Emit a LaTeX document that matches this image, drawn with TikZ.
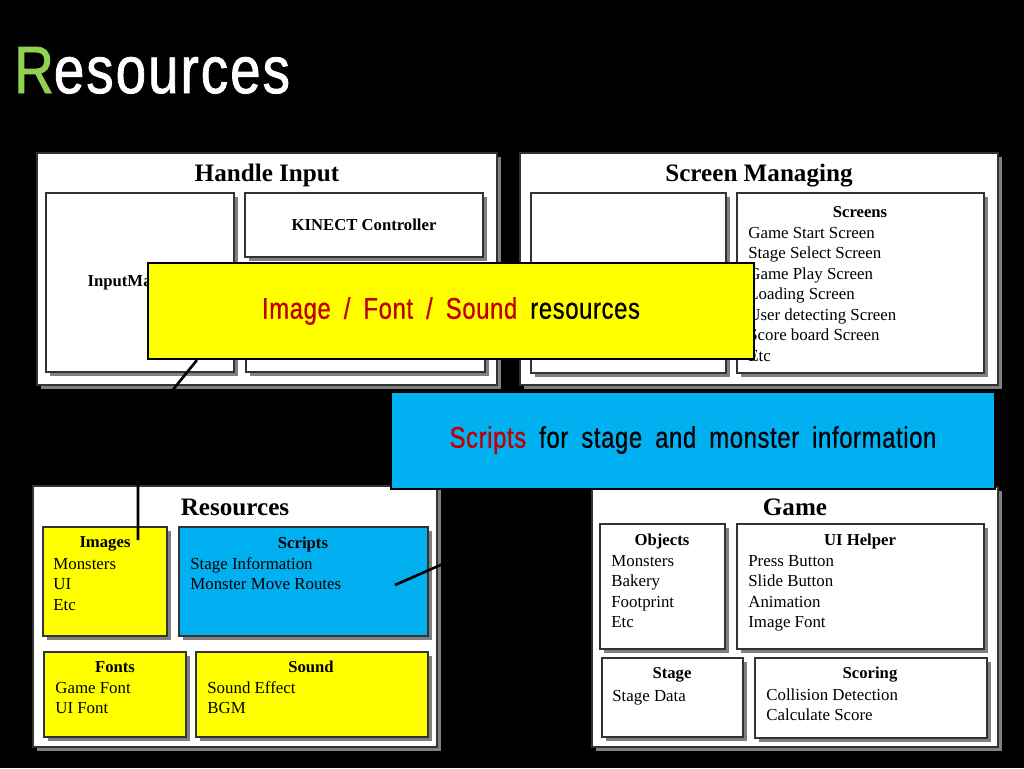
\documentclass[tikz,border=0pt]{standalone}
\usepackage{fontspec}
\setmainfont{Liberation Serif}
\newfontfamily\condfont[FakeStretch=0.82,FakeBold=1.2,LetterSpace=3]{Liberation Sans}
\newfontfamily\callfont[FakeStretch=0.8,FakeBold=0.6,LetterSpace=2,WordSpace=1.8]{Liberation Sans}
\usetikzlibrary{fit,shadows,calc}

\definecolor{callyellow}{RGB}{255,255,0}
\definecolor{callblue}{RGB}{0,176,240}
\definecolor{callred}{RGB}{192,0,0}
\definecolor{titlegreen}{RGB}{146,208,80}

\tikzset{
  panel/.style={draw=black!80, line width=0.6pt, fill=white, inner sep=0pt,
    drop shadow={shadow xshift=2.3pt, shadow yshift=-2.3pt, fill=gray, opacity=1}},
  head/.style={font=\bfseries\fontsize{14.3}{16}\selectfont},
  sub/.style={font=\bfseries\fontsize{9.5}{11}\selectfont},
  item/.style={anchor=base west, inner sep=0pt, font=\fontsize{9.6}{11}\selectfont},
  callout/.style={draw=black, line width=1.2pt, inner sep=0pt},
  calltext/.style={font=\callfont\fontsize{17}{19}\selectfont},
  pin/.style={line width=1.5pt, black}
}

\begin{document}
\begin{tikzpicture}[x=0.02cm, y=-0.02cm]
  \fill[black] (0,0) rectangle (1024,768);
  \useasboundingbox (0,0) rectangle (1024,768);

  % title
  \node[anchor=base west, inner sep=0pt, text=white, font=\condfont\fontsize{38}{40}\selectfont] (title)
    at (14,93) {\textcolor{titlegreen}{R}esources};

  % Handle Input
  \node[panel, fit={(37,153) (497,385)}] (hinput) {};
  \node[head] (hinputt) at (267,175) {Handle Input};
  \node[panel, fit={(46,193) (234,372)}] (inmgr) {};
  \node[panel, fit={(245,193) (483,257)}] (kinect) {};
  \node[panel, fit={(246,268) (485,372)}] (hinlow) {};
  \node[sub] (inmgrt) at (140,283) {InputManager};
  \node[sub] (kinectt) at (364,225) {KINECT Controller};

  % Screen Managing
  \node[panel, fit={(520,153) (998,385)}] (scrmgr) {};
  \node[head] (scrmgrt) at (759,176) {Screen Managing};
  \node[panel, fit={(531,193) (726,373)}] (scrleft) {};
  \node[panel, fit={(737,193) (984,373)}] (screens) {};
  \node[sub] (screenst) at (860,212) {Screens};
  \foreach \t [count=\i from 0] in {Game Start Screen, Stage Select Screen, Game Play Screen,
      Loading Screen, User detecting Screen, Score board Screen, Etc}
    \node[item] (scr\i) at (748,238+20.5*\i) {\t};

  % Resources
  \node[panel, fit={(33,486) (437,747)}] (res) {};
  \node[head] (rest) at (235,507) {Resources};
  \node[panel, fill=callyellow, fit={(43,527) (167,636)}] (images) {};
  \node[panel, fill=callblue, fit={(179,527) (428,636)}] (scripts) {};
  \node[panel, fill=callyellow, fit={(44,652) (186,737)}] (fonts) {};
  \node[panel, fill=callyellow, fit={(196,652) (428,737)}] (sound) {};
  \node[sub] (imagest) at (105,544) {Images};
  \node[sub] (scriptst) at (303,544) {Scripts};
  \node[sub] (fontst) at (115,667) {Fonts};
  \node[sub] (soundt) at (311,667) {Sound};
  \foreach \t [count=\i from 0] in {Monsters, UI, Etc}
    \node[item] (img\i) at (53,569+20.5*\i) {\t};
  \foreach \t [count=\i from 0] in {Stage Information, Monster Move Routes}
    \node[item] (scp\i) at (190,569+20.5*\i) {\t};
  \foreach \t [count=\i from 0] in {Game Font, UI Font}
    \node[item] (fnt\i) at (55,693+20.5*\i) {\t};
  \foreach \t [count=\i from 0] in {Sound Effect, BGM}
    \node[item] (snd\i) at (207,693+20.5*\i) {\t};

  % Game
  \node[panel, fit={(592,487) (998,747)}] (game) {};
  \node[head] (gamet) at (795,507) {Game};
  \node[panel, fit={(600,524) (725,649)}] (objects) {};
  \node[panel, fit={(737,524) (984,649)}] (uihelp) {};
  \node[panel, fit={(602,658) (743,737)}] (stage) {};
  \node[panel, fit={(755,658) (987,738)}] (scoring) {};
  \node[sub] (objectst) at (662,541) {Objects};
  \node[sub] (uihelpt) at (860,541) {UI Helper};
  \node[sub] (staget) at (672,675) {Stage};
  \node[sub] (scoringt) at (870,675) {Scoring};
  \foreach \t [count=\i from 0] in {Monsters, Bakery, Footprint, Etc}
    \node[item] (obj\i) at (611,566+20.5*\i) {\t};
  \foreach \t [count=\i from 0] in {Press Button, Slide Button, Animation, Image Font}
    \node[item] (uih\i) at (748,566+20.5*\i) {\t};
  \node[item] (stg0) at (612,701) {Stage Data};
  \foreach \t [count=\i from 0] in {Collision Detection, Calculate Score}
    \node[item] (sco\i) at (766,700+20.5*\i) {\t};

  % callouts
  \node[callout, fill=callyellow, fit={(148,263) (754,359)}] (ycall) {};
  \node[callout, fill=callblue, fit={(391,392) (995,489)}] (bcall) {};
  \coordinate (ybend) at (138,433);
  \coordinate (ypin) at (138,540);
  \coordinate (bbend) at (470,552);
  \coordinate (bpin) at (395,585);
  \draw[pin] ($(ycall.south west)+(50,0)$) -- (ybend) -- (ypin);
  \draw[pin] ($(bcall.south west)+(79,0)$) -- (bbend) -- (bpin);
  \node[calltext] (ytext) at (451,311) {\textcolor{callred}{Image / Font / Sound} resources};
  \node[calltext] (btext) at (693,440) {\textcolor{callred}{Scripts} for stage and monster information};
\end{tikzpicture}
\end{document}
